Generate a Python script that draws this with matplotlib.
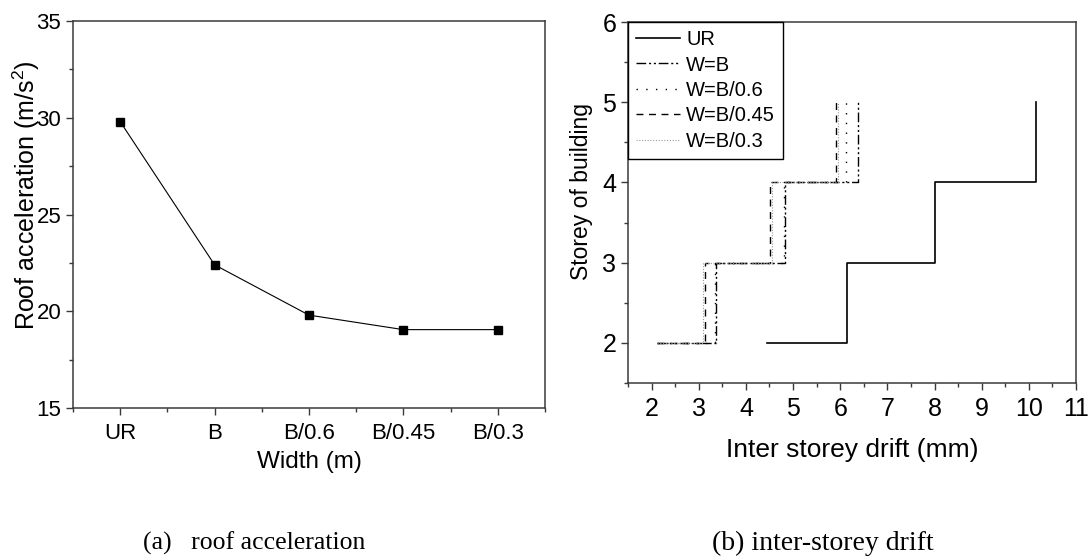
import numpy as np
import matplotlib
matplotlib.use("Agg")
import matplotlib.pyplot as plt
from matplotlib.ticker import MultipleLocator

plt.rcParams["font.family"] = ["Liberation Sans", "DejaVu Sans"]
plt.rcParams["mathtext.fontset"] = "custom"
plt.rcParams["mathtext.rm"] = "Liberation Sans"

## data: roof acceleration vs damper width

widths = ["UR", "B", "B/0.6", "B/0.45", "B/0.3"]
roof_acc = [29.8, 22.4, 19.8, 19.05, 19.05]

## data: inter storey drift per storey (step profiles)

storeys = [2, 3, 4, 5]
drift_ur = [4.45, 6.15, 8.0, 10.15]
drift_b = [2.12, 3.37, 4.83, 6.38]
drift_b06 = [2.12, 3.35, 4.80, 6.13]
drift_b045 = [2.12, 3.13, 4.52, 5.90]
drift_b03 = [2.12, 3.10, 4.55, 5.95]

spine_col = "#3a3a3a"

fig = plt.figure(figsize=(10.91, 5.57), dpi=100)
ax1 = fig.add_axes([0.0669, 0.2675, 0.4326, 0.6948])
ax2 = fig.add_axes([0.5756, 0.3124, 0.4107, 0.6481])

## (a) roof acceleration

xpos = np.arange(len(widths))
ax1.plot(xpos, roof_acc, color="black", linewidth=0.8, marker="s",
         markersize=6, markerfacecolor="black", markeredgecolor="black")
ax1.set_xlim(-0.5, 4.5)
ax1.set_ylim(15, 35)
ax1.set_xticks(xpos)
ax1.set_xticklabels(widths, fontsize=16)
ax1.xaxis.set_minor_locator(MultipleLocator(1, offset=0.5))
ax1.yaxis.set_major_locator(MultipleLocator(5))
ax1.yaxis.set_minor_locator(MultipleLocator(2.5))
ax1.tick_params(axis="y", labelsize=16)
ax1.tick_params(axis="x", pad=6)
ax1.set_xlabel("Width (m)", fontsize=17.5, labelpad=5)
# label sits over the tick numbers, as in the original figure
ax1.set_ylabel("Roof acceleration (m/s$^2$)", fontsize=18)
ax1.yaxis.set_label_coords(-0.066, 0.55)

## (b) inter storey drift

ax2.step(drift_ur, storeys, where="post", color="black", linewidth=1.2, label="UR")
ax2.step(drift_b, storeys, where="post", color="black", linewidth=1.0,
         linestyle=(0, (7, 2, 1.5, 2, 1.5, 2)), label="W=B")
ax2.step(drift_b06, storeys, where="post", color="black", linewidth=1.0,
         linestyle=(0, (1, 6)), label="W=B/0.6")
ax2.step(drift_b045, storeys, where="post", color="black", linewidth=1.0,
         linestyle=(0, (5, 4)), label="W=B/0.45")
ax2.step(drift_b03, storeys, where="post", color="#9a9a9a", linewidth=0.8,
         linestyle=(0, (1, 1.5)), label="W=B/0.3")
ax2.set_xlim(1.5, 11)
ax2.set_ylim(1.5, 6)
ax2.xaxis.set_major_locator(MultipleLocator(1))
ax2.xaxis.set_minor_locator(MultipleLocator(0.5))
ax2.yaxis.set_major_locator(MultipleLocator(1))
ax2.yaxis.set_minor_locator(MultipleLocator(0.5))
ax2.tick_params(axis="x", labelsize=18, pad=5)
ax2.tick_params(axis="y", labelsize=18)
ax2.set_xlabel("Inter storey drift (mm)", fontsize=19, labelpad=12)
ax2.set_ylabel("Storey of building", fontsize=16.5)
ax2.yaxis.set_label_coords(-0.078, 0.53)

leg = ax2.legend(loc="upper left", bbox_to_anchor=(0, 1), borderaxespad=0,
                 fontsize=14.5, frameon=True, fancybox=False, framealpha=1,
                 edgecolor="black", handlelength=2.2, handletextpad=0.3,
                 labelspacing=0.32, borderpad=0.4)
leg.get_frame().set_linewidth(1.0)

for ax in (ax1, ax2):
    for sp in ax.spines.values():
        sp.set_color(spine_col)
        sp.set_linewidth(1.1)
    ax.tick_params(which="major", direction="out", length=5, width=1, color=spine_col)
    ax.tick_params(which="minor", direction="out", length=3, width=1, color=spine_col)

## captions

fig.text(0.131, 0.025, "(a)   roof acceleration", fontsize=18.5,
         family=["Liberation Serif", "DejaVu Serif"], ha="left", va="center")
fig.text(0.6526, 0.025, "(b) inter-storey drift", fontsize=20,
         family=["Liberation Serif", "DejaVu Serif"], ha="left", va="center")

fig.savefig("out.png", dpi=100)
